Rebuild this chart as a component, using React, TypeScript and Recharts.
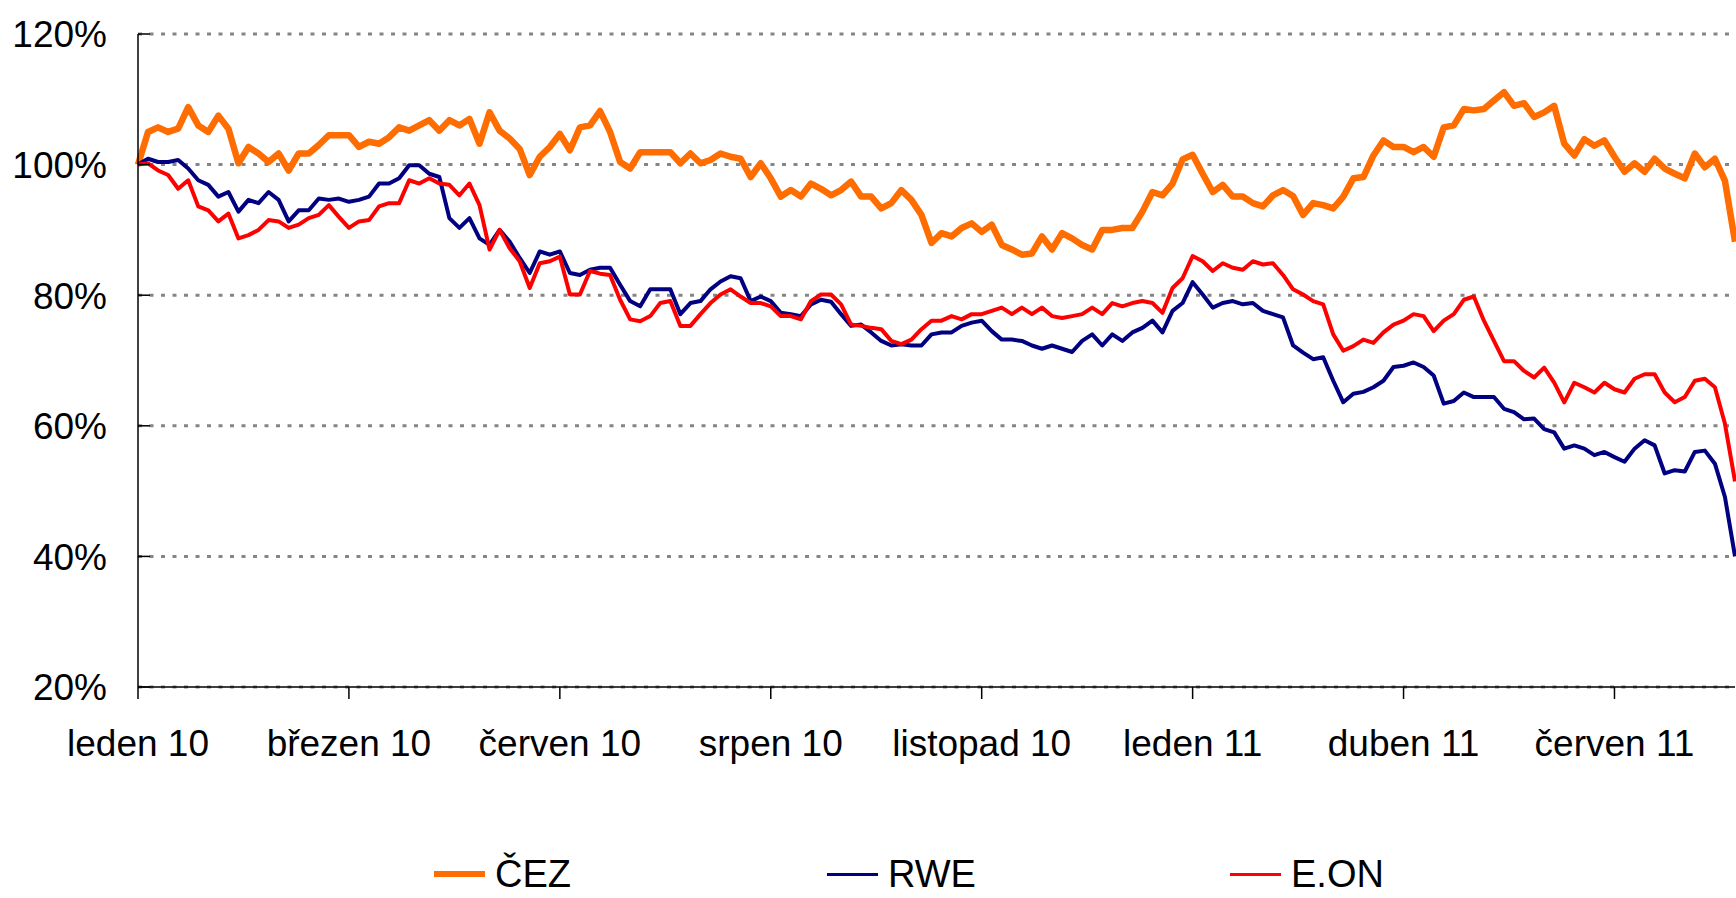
import { LineChart, Line, XAxis, YAxis, CartesianGrid } from "recharts"

// category labels shown under the axis, and the point index where each one sits
const monthLabels = ["leden 10", "březen 10", "červen 10", "srpen 10", "listopad 10", "leden 11", "duben 11", "červen 11"]
const monthTickIndex = [0, 21, 42, 63, 84, 105, 126, 147]
const yTicks = [20, 40, 60, 80, 100, 120]

// relative share price, % of the first day
const cez = [
  100, 105, 105.7, 105, 105.5, 108.8, 106, 105, 107.5, 105.5, 100.2, 102.7, 101.7, 100.4, 101.7, 99.1, 101.7, 101.7, 103, 104.5, 104.5, 104.5, 102.7, 103.5,
  103.2, 104.2, 105.7, 105.2, 106, 106.8, 105.2, 106.8, 106, 107, 103.2, 108, 105.2, 104, 102.4, 98.4, 101.2, 102.7, 104.7, 102.2, 105.7, 106, 108.2,
  105, 100.4, 99.4, 101.9, 101.9, 101.9, 101.9, 100.2, 101.7, 100.2, 100.7, 101.7, 101.2, 100.9, 98.1, 100.2, 97.9, 95.1, 96.1, 95.1, 97.1, 96.3, 95.3,
  96.1, 97.4, 95.1, 95.1, 93.3, 94.1, 96.1, 94.6, 92.3, 88, 89.5, 89, 90.3, 91, 89.7, 90.8, 87.7, 87, 86.2, 86.4, 89, 87, 89.5,
  88.7, 87.7, 87, 90, 90, 90.3, 90.3, 92.8, 95.8, 95.3, 97.1, 100.8, 101.5, 98.6, 95.8, 96.9, 95.1, 95.1, 94.1, 93.6, 95.3, 96.1, 95.2,
  92.3, 94.1, 93.8, 93.3, 95.1, 97.9, 98.1, 101.4, 103.7, 102.7, 102.7, 101.9, 102.7, 101.2, 105.7, 106, 108.5, 108.3, 108.5, 109.8, 111.1, 109, 109.4,
  107.3, 108, 109, 103.2, 101.4, 103.9, 102.9, 103.7, 101.2, 98.9, 100.2, 98.9, 100.9, 99.4, 98.6, 97.9, 101.7, 99.6, 100.9, 97.5, 88.2,
]
const rwe = [
  100, 100.9, 100.4, 100.4, 100.7, 99.4, 97.6, 96.9, 95.1, 95.8, 92.8, 94.6, 94.1, 95.8, 94.6, 91.3, 93, 93, 94.8, 94.6, 94.8, 94.3, 94.6, 95.1,
  97.1, 97.1, 97.9, 99.9, 99.9, 98.6, 98.1, 91.8, 90.3, 91.8, 88.7, 87.7, 90, 88.2, 85.7, 83.4, 86.7, 86.2, 86.7, 83.4, 83.1, 83.9, 84.2,
  84.2, 81.6, 79.1, 78.3, 80.9, 80.9, 80.9, 77.1, 78.8, 79.1, 80.9, 82.1, 82.9, 82.6, 79.1, 79.8, 79.1, 77.3, 77.1, 76.8, 78.6, 79.3, 79,
  77.1, 75.3, 75.5, 74.3, 73, 72.3, 72.5, 72.3, 72.3, 74, 74.3, 74.3, 75.3, 75.8, 76.1, 74.5, 73.2, 73.2, 73, 72.3, 71.8, 72.3, 71.8,
  71.3, 73, 74, 72.3, 74, 73, 74.3, 75, 76.1, 74.3, 77.6, 78.8, 82, 80.1, 78.1, 78.8, 79.1, 78.6, 78.8, 77.6, 77.1, 76.6, 72.3,
  71.2, 70.2, 70.5, 66.9, 63.6, 64.9, 65.2, 65.9, 66.9, 69, 69.2, 69.7, 69, 67.7, 63.4, 63.8, 65.1, 64.4, 64.4, 64.4, 62.6, 62.1, 61,
  61.1, 59.5, 59, 56.5, 57, 56.5, 55.5, 56, 55.2, 54.5, 56.5, 57.8, 57, 52.7, 53.2, 53, 56, 56.2, 54.2, 49.1, 40,
]
const eon = [
  100, 100.2, 99.1, 98.4, 96.3, 97.6, 93.6, 93, 91.3, 92.5, 88.7, 89.2, 90, 91.5, 91.3, 90.3, 90.8, 91.8, 92.3, 93.8, 92, 90.3, 91.3, 91.5,
  93.6, 94.1, 94.1, 97.6, 97.1, 97.9, 97.1, 96.9, 95.3, 97.1, 93.8, 87, 90, 87.2, 85.2, 81.1, 84.9, 85.2, 85.9, 80.1, 80.1, 83.7, 83.3,
  83.1, 79.3, 76.3, 76, 76.8, 78.8, 79.1, 75.3, 75.3, 77.1, 78.8, 80.1, 80.9, 79.8, 78.8, 78.8, 78.3, 76.8, 76.8, 76.3, 79.1, 80.1, 80.1,
  78.6, 75.5, 75.3, 75, 74.8, 73, 72.5, 73.2, 74.8, 76.1, 76.1, 76.8, 76.3, 77.1, 77.1, 77.6, 78.1, 77.1, 78.1, 77.1, 78.1, 76.8, 76.5,
  76.8, 77.1, 78.1, 77.1, 78.8, 78.3, 78.8, 79.1, 78.8, 77.3, 81.1, 82.6, 86, 85.2, 83.7, 84.9, 84.2, 83.9, 85.2, 84.7, 84.9, 83.1, 80.9,
  80.1, 79.1, 78.6, 74, 71.5, 72.2, 73.2, 72.7, 74.3, 75.5, 76.1, 77.1, 76.8, 74.5, 76.1, 77.1, 79.3, 79.8, 76.1, 73, 69.9, 69.9, 68.4,
  67.4, 68.9, 66.6, 63.6, 66.6, 65.9, 65.1, 66.6, 65.6, 65.1, 67.2, 67.9, 67.9, 65.1, 63.6, 64.4, 66.9, 67.2, 65.9, 60.3, 51.5,
]

const series = [
  { key: "cez", name: "ČEZ", color: "#FF6C00", width: 6.5, legendLeft: 434 },
  { key: "rwe", name: "RWE", color: "#000080", width: 4, legendLeft: 827 },
  { key: "eon", name: "E.ON", color: "#FF0000", width: 4, legendLeft: 1230 },
]

const data = cez.map((v, i) => ({ i, cez: v, rwe: rwe[i], eon: eon[i] }))

const FONT = '"Liberation Sans", Arial, sans-serif'

const YTick = (props: any) => {
  const { x, y, payload } = props
  return (
    <g>
      <line x1={x} x2={x + 12} y1={y} y2={y} stroke="#000" strokeWidth={1.5} />
      <text x={x - 31} y={y} dy="0.36em" textAnchor="end" fontSize={37} fontFamily={FONT} fill="#000">
        {payload.value}%
      </text>
    </g>
  )
}

const App = () => {
  return (
    <div style={{ position: "relative", width: 1736, height: 898, overflow: "hidden", background: "#fff" }}>
      <style>{`body{margin:0}`}</style>
      <LineChart width={1736} height={898} data={data} margin={{ top: 34, right: 1, left: 0, bottom: 0 }}>
        <CartesianGrid vertical={false} stroke="#858585" strokeWidth={3} strokeDasharray="4 7.5" />
        <XAxis
          dataKey="i"
          type="number"
          domain={[0, cez.length - 1]}
          ticks={monthTickIndex}
          tickFormatter={(v: number) => monthLabels[monthTickIndex.indexOf(v)]}
          height={211}
          tickSize={12}
          tickMargin={31}
          stroke="#000"
          strokeWidth={1.5}
          tick={{ fontSize: 37, fontFamily: FONT, fill: "#000" }}
          interval={0}
        />
        <YAxis
          domain={[20, 120]}
          ticks={yTicks}
          width={138}
          tickSize={0}
          tickMargin={0}
          tickLine={false}
          stroke="#000"
          strokeWidth={1.5}
          tick={<YTick />}
          interval={0}
        />
        {series.map((s) => (
          <Line
            key={s.key}
            type="linear"
            dataKey={s.key}
            stroke={s.color}
            strokeWidth={s.width}
            dot={false}
            isAnimationActive={false}
            strokeLinejoin="round"
          />
        ))}
      </LineChart>
      {series.map((s) => (
        <div
          key={s.key}
          style={{
            position: "absolute",
            left: s.legendLeft,
            top: 855,
            height: 38,
            display: "flex",
            alignItems: "center",
            fontFamily: FONT,
            fontSize: 38,
            lineHeight: "38px",
            whiteSpace: "nowrap",
          }}
        >
          <span style={{ display: "inline-block", width: 51, height: s.width - 1, background: s.color, marginRight: 10 }} />
          <span>{s.name}</span>
        </div>
      ))}
    </div>
  )
}

export default App
